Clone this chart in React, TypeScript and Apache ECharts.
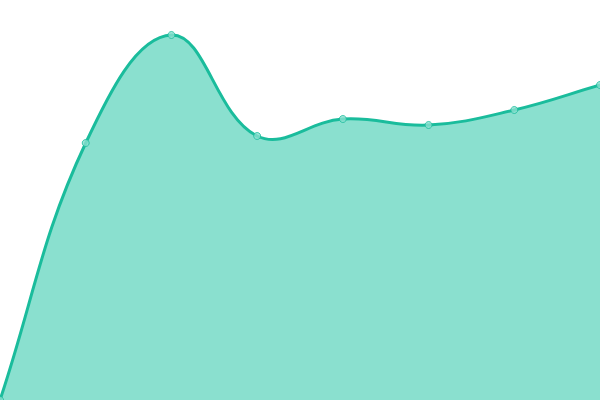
import { useEffect, useRef } from "react";
import * as echarts from "echarts";

const categories = ["1", "2", "3", "4", "5", "6", "7", "8"];
const values = [0, 257, 365, 264, 281, 275, 290, 315];

const lineColor = "#1abc9c";
const areaColor = "#8ae0cf";
const tension = 0.4;

type Pt = { x: number; y: number };

// cardinal-style spline, control points from neighbour distances
function buildPath(pts: Pt[]) {
  const cps = pts.map((cur, i) => {
    const prev = pts[i - 1] || cur;
    const next = pts[i + 1] || cur;
    const d01 = Math.hypot(cur.x - prev.x, cur.y - prev.y);
    const d12 = Math.hypot(next.x - cur.x, next.y - cur.y);
    const s01 = d01 + d12 ? d01 / (d01 + d12) : 0;
    const s12 = d01 + d12 ? d12 / (d01 + d12) : 0;
    const fa = tension * s01;
    const fb = tension * s12;
    return {
      prev: { x: cur.x - fa * (next.x - prev.x), y: cur.y - fa * (next.y - prev.y) },
      next: { x: cur.x + fb * (next.x - prev.x), y: cur.y + fb * (next.y - prev.y) },
    };
  });
  let d = `M${pts[0].x},${pts[0].y}`;
  for (let i = 1; i < pts.length; i++) {
    const a = cps[i - 1].next;
    const b = cps[i].prev;
    d += ` C${a.x},${a.y} ${b.x},${b.y} ${pts[i].x},${pts[i].y}`;
  }
  return d;
}

export default function App() {
  const chartRef = useRef<HTMLDivElement>(null);

  useEffect(() => {
    if (!chartRef.current) return;
    const chart = echarts.init(chartRef.current, undefined, { renderer: "svg" });

    const option: echarts.EChartsOption = {
      animation: false,
      grid: { left: 0, right: 0, top: 0, bottom: 0 },
      xAxis: {
        type: "category",
        data: categories,
        boundaryGap: false,
        show: false,
      },
      yAxis: {
        type: "value",
        min: 0,
        max: 400,
        show: false,
      },
      series: [
        {
          type: "custom",
          data: values.map((v, i) => [i, v]),
          clip: true,
          renderItem: (params: any, api: any) => {
            if (params.dataIndex !== 0) return null;
            const pts = values.map((v, i) => {
              const c = api.coord([i, v]);
              return { x: c[0], y: c[1] };
            });
            const base = api.coord([0, 0])[1];
            const line = buildPath(pts);
            const area =
              line +
              ` L${pts[pts.length - 1].x},${base} L${pts[0].x},${base} Z`;
            return {
              type: "group",
              children: [
                {
                  type: "path",
                  shape: { pathData: area },
                  style: { fill: areaColor, stroke: "none" },
                },
                {
                  type: "path",
                  shape: { pathData: line },
                  style: { fill: "none", stroke: lineColor, lineWidth: 3 },
                },
              ],
            };
          },
        } as any,
        {
          type: "scatter",
          data: values.map((v, i) => [i, v]),
          symbol: "circle",
          symbolSize: 7,
          itemStyle: { color: areaColor, borderColor: lineColor, borderWidth: 1 },
          z: 3,
        },
      ],
    };

    chart.setOption(option);
    return () => chart.dispose();
  }, []);

  return (
    <div
      ref={chartRef}
      style={{ position: "fixed", left: 0, top: 0, width: 600, height: 400 }}
    />
  );
}
